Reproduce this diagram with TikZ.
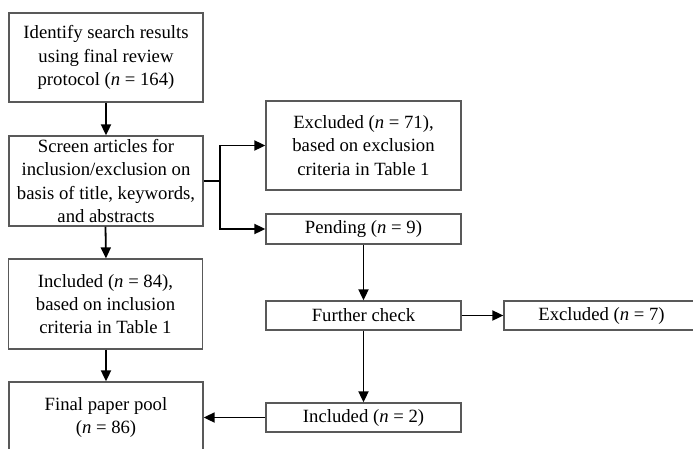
\documentclass[tikz,border=0pt]{standalone}
\usepackage{fontspec}
\setmainfont{Liberation Serif}
\usetikzlibrary{arrows.meta}
\begin{document}
\begin{tikzpicture}[x=1pt,y=-1pt,
  box/.style={draw=black!65, line width=1.3pt, fill=white, align=center, inner sep=0pt,
    font=\fontsize{18.7}{23.3}\selectfont, minimum width=194pt},
  arr/.style={line width=1.8pt, -{Triangle[length=11pt,width=10pt]}},
  ln/.style={line width=1.8pt}]
\clip (0,0) rectangle (693,448);
\fill[white] (0,0) rectangle (693,448);
\node[box, minimum height=89pt] (b1) at (106,57.5) {Identify search results\\using final review\\protocol (\textit{n} = 164)};
\node[box, minimum height=90pt] (b2) at (106,181) {Screen articles for\\inclusion/exclusion on\\basis of title, keywords,\\and abstracts};
\node[box, minimum height=90pt] (b3) at (105.5,304) {Included (\textit{n} = 84),\\based on inclusion\\criteria in Table 1};
\node[box, minimum height=71pt] (b4) at (106,417.5) {Final paper pool\\(\textit{n} = 86)};
\node[box, minimum width=195pt, minimum height=89pt] (ex1) at (363.5,145.5) {Excluded (\textit{n} = 71),\\based on exclusion\\criteria in Table 1};
\node[box, minimum width=195pt, minimum height=30pt] (pend) at (363.5,229) {Pending (\textit{n} = 9)};
\node[box, minimum width=195pt, minimum height=29pt] (fur) at (363.5,315.5) {Further check};
\node[box, minimum width=195pt, minimum height=29pt] (inc2) at (363.5,417.5) {Included (\textit{n} = 2)};
\node[box, minimum width=195pt, minimum height=29pt] (ex2) at (601.5,315.5) {Excluded (\textit{n} = 7)};
\coordinate (br) at (220,181);
\draw[arr] (b1) -- (b2);
\draw[arr] (b2.south -| b3.north) -- (b3.north -| b2.south);
\draw[arr] (b3.south -| b4.north) -- (b4);
\draw[ln] (b2.east) -- (br);
\draw[arr] (br) |- (ex1.west);
\draw[arr] (br) |- (pend.west);
\draw[arr] (pend) -- (fur);
\draw[arr] (fur) -- (inc2);
\draw[arr] (fur) -- (ex2);
\draw[arr] (inc2) -- (b4.east |- inc2.west);
\end{tikzpicture}
\end{document}
